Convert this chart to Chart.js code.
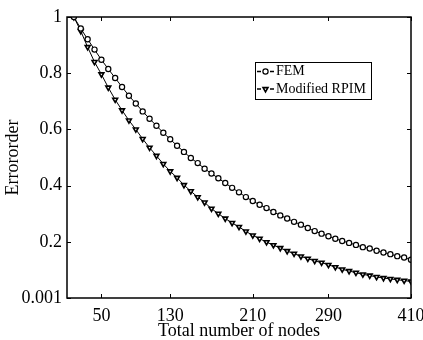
<!DOCTYPE html>
<html lang="en">
<head>
  <meta charset="UTF-8">
  <title>Errororder vs nodes</title>
  <script src="https://cdn.jsdelivr.net/npm/chart.js"></script>
  <style>
    body { margin: 0; background: #fff; }
  </style>
</head>
<body>
<canvas id="errChart" width="423" height="340"></canvas>

<script>
  // node index (plotted position) for every sample
  const nodeIdx = [1, 2, 3, 4, 5, 6, 7, 8, 9, 10, 11, 12, 13, 14, 15, 16, 17, 18, 19, 20,
    21, 22, 23, 24, 25, 26, 27, 28, 29, 30, 31, 32, 33, 34, 35, 36, 37, 38, 39, 40,
    41, 42, 43, 44, 45, 46, 47, 48, 49, 50];

  const femErr = [1.0, 0.959, 0.921, 0.884, 0.848, 0.815, 0.783, 0.751, 0.720, 0.692,
    0.664, 0.638, 0.613, 0.588, 0.565, 0.542, 0.520, 0.498, 0.480, 0.460,
    0.443, 0.426, 0.409, 0.392, 0.376, 0.359, 0.345, 0.332, 0.320, 0.306,
    0.294, 0.283, 0.271, 0.261, 0.249, 0.238, 0.229, 0.220, 0.211, 0.203,
    0.196, 0.189, 0.181, 0.176, 0.168, 0.162, 0.156, 0.149, 0.144, 0.136];

  const rpimErr = [1.0, 0.950, 0.893, 0.840, 0.796, 0.749, 0.706, 0.668, 0.632, 0.600,
    0.566, 0.535, 0.506, 0.477, 0.451, 0.428, 0.402, 0.380, 0.359, 0.340,
    0.318, 0.300, 0.283, 0.267, 0.253, 0.237, 0.223, 0.211, 0.199, 0.188,
    0.178, 0.167, 0.158, 0.148, 0.140, 0.132, 0.126, 0.118, 0.110, 0.102,
    0.096, 0.090, 0.084, 0.080, 0.075, 0.071, 0.068, 0.065, 0.062, 0.059];

  const xTickPos = [5, 15, 27, 38, 50];
  const xTickLabels = ['50', '130', '210', '290', '410'];
  const yTickPos = [0, 0.2, 0.4, 0.6, 0.8, 1];
  const yTickLabels = ['0.001', '0.2', '0.4', '0.6', '0.8', '1'];

  const serif = 'Liberation Serif';

  const toPoints = (ys) => ys.map((y, i) => ({ x: nodeIdx[i], y: y }));

  // box frame with inward ticks, matlab style
  const framePlugin = {
    id: 'frame',
    afterDatasetsDraw(chart) {
      const { ctx, chartArea: a, scales } = chart;
      ctx.save();
      ctx.strokeStyle = '#000';
      ctx.lineWidth = 1.5;
      ctx.strokeRect(a.left, a.top, a.right - a.left, a.bottom - a.top);
      ctx.lineWidth = 1;
      ctx.beginPath();
      xTickPos.forEach(v => {
        const px = Math.round(scales.x.getPixelForValue(v)) + 0.5;
        ctx.moveTo(px, a.bottom); ctx.lineTo(px, a.bottom - 4);
        ctx.moveTo(px, a.top); ctx.lineTo(px, a.top + 4);
      });
      yTickPos.forEach(v => {
        const py = Math.round(scales.y.getPixelForValue(v)) + 0.5;
        ctx.moveTo(a.left, py); ctx.lineTo(a.left + 4, py);
        ctx.moveTo(a.right, py); ctx.lineTo(a.right - 4, py);
      });
      ctx.stroke();
      ctx.restore();
    }
  };

  // legend box like the matlab one
  const legendPlugin = {
    id: 'boxLegend',
    afterDraw(chart) {
      const ctx = chart.ctx;
      const bx = 255, by = 62, bw = 116, bh = 37;
      ctx.save();
      ctx.fillStyle = '#fff';
      ctx.fillRect(bx, by, bw, bh);
      ctx.strokeStyle = '#000';
      ctx.lineWidth = 1;
      ctx.strokeRect(bx + 0.5, by + 0.5, bw, bh);
      const rows = [71.5, 89];
      chart.data.datasets.forEach((ds, i) => {
        const cy = rows[i];
        ctx.strokeStyle = '#000';
        ctx.lineWidth = 1.5;
        ctx.beginPath();
        ctx.moveTo(257, cy); ctx.lineTo(261, cy);
        ctx.moveTo(270, cy); ctx.lineTo(274, cy);
        ctx.stroke();
        ctx.lineWidth = ds.pointBorderWidth;
        ctx.fillStyle = ds.pointBackgroundColor;
        Chart.helpers.drawPoint(ctx, {
          pointStyle: ds.pointStyle, rotation: ds.pointRotation || 0,
          radius: ds.pointRadius, borderWidth: ds.pointBorderWidth
        }, 265.5, cy);
        ctx.fillStyle = '#000';
        ctx.font = '14px "' + serif + '"';
        ctx.textBaseline = 'middle';
        ctx.textAlign = 'left';
        ctx.fillText(ds.label, 276, cy);
      });
      ctx.restore();
    }
  };

  new Chart(document.getElementById('errChart'), {
    type: 'line',
    data: {
      datasets: [
        {
          label: 'FEM',
          data: toPoints(femErr),
          borderColor: '#000',
          borderWidth: 1,
          pointStyle: 'circle',
          pointRadius: 2.6,
          pointBorderWidth: 1.2,
          pointBorderColor: '#000',
          pointBackgroundColor: '#fff',
          fill: false,
          tension: 0
        },
        {
          label: 'Modified RPIM',
          data: toPoints(rpimErr),
          borderColor: '#000',
          borderWidth: 1,
          pointStyle: 'triangle',
          pointRotation: 180,
          pointRadius: 2.8,
          pointBorderWidth: 1.6,
          pointBorderColor: '#000',
          pointBackgroundColor: '#fff',
          fill: false,
          tension: 0
        }
      ]
    },
    options: {
      responsive: false,
      animation: false,
      layout: { padding: { left: 0, top: 17, right: 12, bottom: 0 } },
      plugins: {
        legend: { display: false },
        tooltip: { enabled: false }
      },
      scales: {
        x: {
          type: 'linear',
          min: 0,
          max: 50,
          grid: { display: false, drawTicks: false },
          border: { display: false },
          afterBuildTicks: (s) => { s.ticks = xTickPos.map(v => ({ value: v })); },
          afterFit: (s) => { s.height = 42; s.paddingLeft = 0; s.paddingRight = 0; },
          ticks: {
            padding: 7,
            color: '#000',
            font: { family: serif, size: 18 },
            maxRotation: 0,
            autoSkip: false,
            callback: (v) => xTickLabels[xTickPos.indexOf(v)]
          },
          title: {
            display: true,
            text: 'Total number of nodes',
            color: '#000',
            font: { family: serif, size: 18, lineHeight: 1 },
            padding: { top: 0, bottom: 0 }
          }
        },
        y: {
          min: 0,
          max: 1,
          grid: { display: false, drawTicks: false },
          border: { display: false },
          afterBuildTicks: (s) => { s.ticks = yTickPos.map(v => ({ value: v })); },
          afterFit: (s) => { s.width = 67; s.paddingTop = 0; s.paddingBottom = 0; },
          ticks: {
            padding: 5,
            color: '#000',
            font: { family: serif, size: 18 },
            autoSkip: false,
            callback: (v) => yTickLabels[yTickPos.indexOf(v)]
          },
          title: {
            display: true,
            text: 'Errororder',
            color: '#000',
            font: { family: serif, size: 18, lineHeight: 1 },
            padding: { top: 4, bottom: 0 }
          }
        }
      }
    },
    plugins: [framePlugin, legendPlugin]
  });
</script>
</body>
</html>
